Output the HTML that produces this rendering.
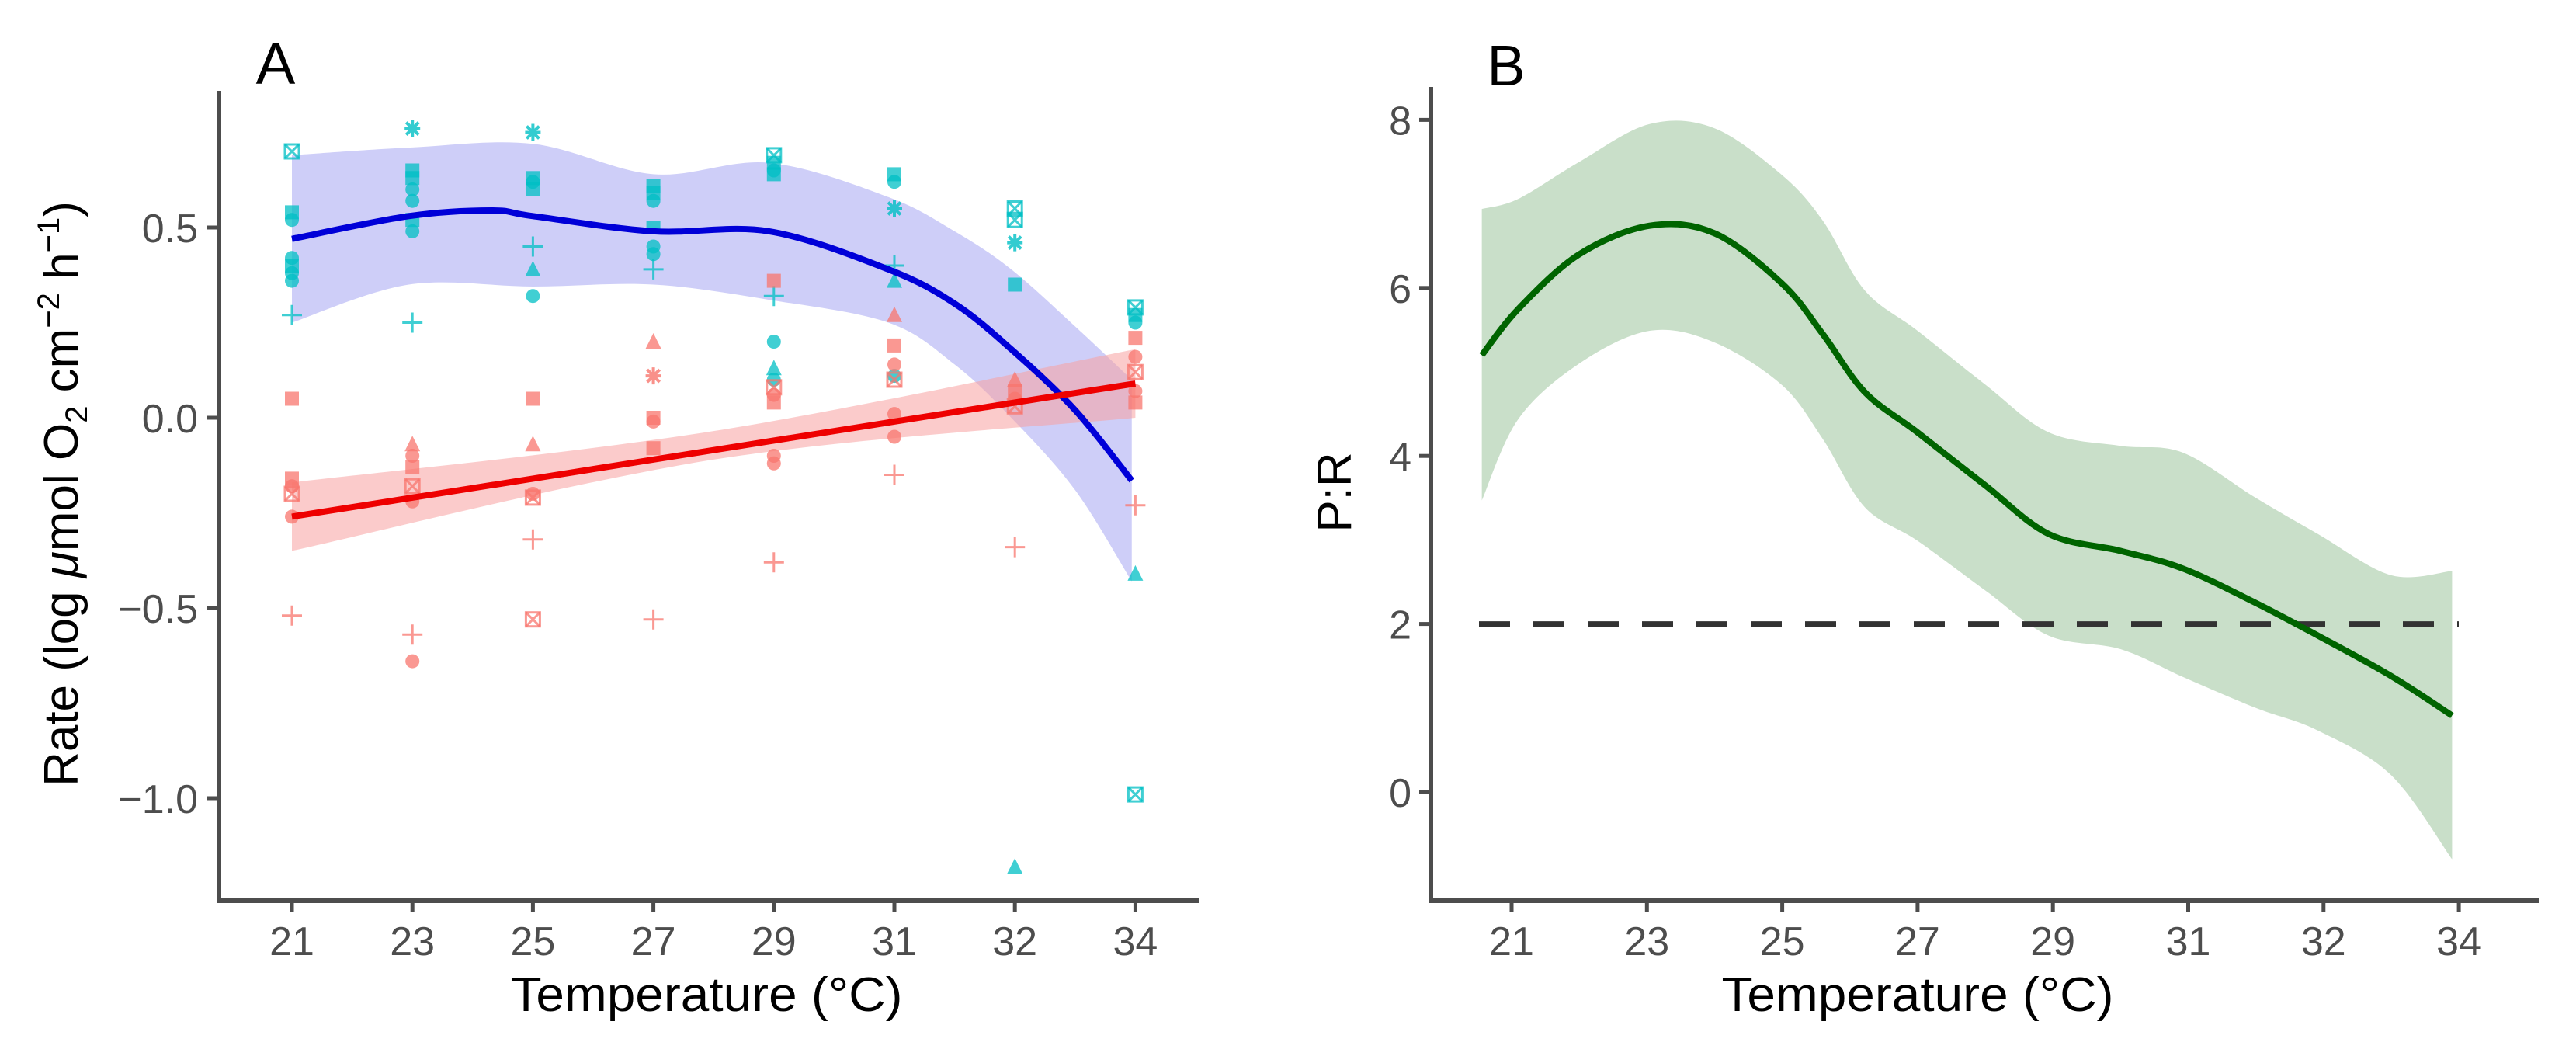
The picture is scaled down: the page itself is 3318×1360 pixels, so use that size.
<!DOCTYPE html>
<html><head><meta charset="utf-8"><style>
html,body{margin:0;padding:0;background:#fff;}
svg{display:block;font-family:"Liberation Sans",Arial,sans-serif;}
</style></head><body>
<svg id="fig" width="3318" height="1360" viewBox="0 0 3318 1360">
<g id="pa"></g>
<g id="pb"></g>
</svg>
<script>
// ---------- Panel A data ----------
const catsA = ["21","23","25","27","29","31","32","34"];
const yTicksA = [0.5, 0.0, -0.5, -1.0];
const yTickLabelsA = ["0.5","0.0","\u22120.5","\u22121.0"];
const cyanVals = [
  [0.70,0.54,0.52,0.42,0.40,0.38,0.36,0.27],
  [0.76,0.65,0.63,0.60,0.57,0.52,0.49,0.25],
  [0.75,0.63,0.62,0.60,0.45,0.39,0.32],
  [0.61,0.59,0.57,0.50,0.45,0.43,0.39],
  [0.69,0.67,0.65,0.64,0.32,0.20,0.13,0.10],
  [0.64,0.62,0.55,0.40,0.36,0.11],
  [0.55,0.52,0.46,0.35,-1.18],
  [0.29,0.27,0.25,-0.41,-0.99]
];
const cyanShapes = [
  ["sx","sq","ci","ci","sq","ci","ci","pl"],
  ["as","sq","sq","ci","ci","sq","ci","pl"],
  ["as","sq","ci","sq","pl","tr","ci"],
  ["sq","sq","ci","sq","ci","ci","pl"],
  ["sx","sq","ci","sq","pl","ci","tr","ci"],
  ["sq","ci","as","pl","tr","ci"],
  ["sx","sx","as","sq","tr"],
  ["sx","sq","ci","tr","sx"]
];
const redVals = [
  [0.05,-0.16,-0.18,-0.20,-0.26,-0.52],
  [-0.07,-0.10,-0.13,-0.18,-0.22,-0.57,-0.64],
  [0.05,-0.07,-0.20,-0.21,-0.32,-0.53],
  [0.20,0.11,0.00,-0.01,-0.08,-0.53],
  [0.36,0.08,0.06,0.04,-0.10,-0.12,-0.38],
  [0.27,0.19,0.14,0.10,0.01,-0.05,-0.15],
  [0.10,0.07,0.05,0.03,-0.34],
  [0.21,0.16,0.12,0.07,0.04,-0.23]
];
const redShapes = [
  ["sq","sq","ci","sx","ci","pl"],
  ["tr","ci","sq","sx","ci","pl","ci"],
  ["sq","tr","ci","sx","pl","sx"],
  ["tr","as","sq","ci","sq","pl"],
  ["sq","sx","ci","sq","ci","ci","pl"],
  ["tr","sq","ci","sx","ci","ci","pl"],
  ["tr","sq","ci","sx","pl"],
  ["sq","ci","sx","ci","sq","pl"]
];
const blueFitX = [0,0.97,1.66,2,3,3.96,4.95,5.5,5.97,6.5,6.97];
const blueFit = [0.47,0.53,0.545,0.53,0.49,0.49,0.39,0.30,0.18,0.02,-0.165];
const blueBandX = [0,0.97,2,3,3.96,4.95,5.5,5.97,6.5,6.97];
const blueUpper = [0.69,0.71,0.72,0.64,0.67,0.58,0.49,0.39,0.24,0.10];
const blueLower = [0.25,0.35,0.345,0.35,0.31,0.25,0.14,0.00,-0.19,-0.43];
const redFitX = [0,7];
const redFit = [-0.26,0.09];
const redBandX = [0,3.5,7];
const redUpper = [-0.17,-0.035,0.18];
const redLower = [-0.35,-0.11,0.00];

// ---------- Panel B data ----------
const catsB = ["21","23","25","27","29","31","32","34"];
const yTicksB = [0,2,4,6,8];
const prX = [-0.22,0.05,0.5,1.02,1.5,2.0,2.3,2.61,3.0,3.5,3.97,4.5,4.96,5.5,5.96,6.5,6.95];
const prFit = [5.2,5.75,6.4,6.74,6.65,6.05,5.45,4.76,4.28,3.65,3.07,2.87,2.66,2.25,1.86,1.38,0.91];
const prUpper = [6.94,7.06,7.5,7.95,7.9,7.34,6.8,5.97,5.49,4.85,4.28,4.12,4.04,3.5,3.07,2.58,2.63];
const prLower = [3.47,4.44,5.1,5.49,5.35,4.84,4.2,3.39,2.99,2.4,1.86,1.70,1.37,1.0,0.73,0.2,-0.80];
const refLine = [2];

const NS="http://www.w3.org/2000/svg";
function mk(tag,parent,attrs){const e=document.createElementNS(NS,tag);for(const k in attrs)e.setAttribute(k,attrs[k]);parent.appendChild(e);return e;}
function smoothPath(pts){
  let d="M"+pts[0][0]+","+pts[0][1];
  for(let i=0;i<pts.length-1;i++){
    const p0=pts[Math.max(0,i-1)],p1=pts[i],p2=pts[i+1],p3=pts[Math.min(pts.length-1,i+2)];
    const c1=[p1[0]+(p2[0]-p0[0])/6,p1[1]+(p2[1]-p0[1])/6];
    const c2=[p2[0]-(p3[0]-p1[0])/6,p2[1]-(p3[1]-p1[1])/6];
    d+=" C"+c1[0]+","+c1[1]+" "+c2[0]+","+c2[1]+" "+p2[0]+","+p2[1];
  }
  return d;
}
function bandPath(xs,up,lo,X,Y){
  const u=xs.map((x,i)=>[X(x),Y(up[i])]);
  const l=xs.map((x,i)=>[X(x),Y(lo[i])]).reverse();
  let d=smoothPath(u);
  d+=" L"+smoothPath(l).slice(1)+" Z";
  return d;
}
const AX="#4d4d4d";

// ---------- Panel A ----------
const pa=document.getElementById('pa');
const xA=i=>376+i*155.2;
const yA=v=>538-v*490;
const axLeftA=282, axBottom=1160;

function shape(g,s,cx,cy,col){
  const r=9;let e;
  if(s==="ci"){e=mk('circle',g,{cx:cx,cy:cy,r:r,fill:col,'fill-opacity':0.75});}
  else if(s==="sq"){e=mk('rect',g,{x:cx-r,y:cy-r,width:2*r,height:2*r,fill:col,'fill-opacity':0.75});}
  else if(s==="tr"){e=mk('polygon',g,{points:`${cx},${cy-r-2} ${cx+r+1},${cy+r} ${cx-r-1},${cy+r}`,fill:col,'fill-opacity':0.75});}
  else if(s==="pl"){e=mk('path',g,{d:`M${cx-13},${cy}H${cx+13}M${cx},${cy-13}V${cy+13}`,stroke:col,'stroke-width':3,'stroke-opacity':0.75,fill:'none'});}
  else if(s==="sx"){e=mk('g',g,{});mk('rect',e,{x:cx-r,y:cy-r,width:2*r,height:2*r,fill:'none',stroke:col,'stroke-width':3,'stroke-opacity':0.75});mk('path',e,{d:`M${cx-r},${cy-r}L${cx+r},${cy+r}M${cx+r},${cy-r}L${cx-r},${cy+r}`,stroke:col,'stroke-width':3,'stroke-opacity':0.75});}
  else {e=mk('path',g,{d:`M${cx-10},${cy}H${cx+10}M${cx},${cy-11}V${cy+11}M${cx-8},${cy-8}L${cx+8},${cy+8}M${cx+8},${cy-8}L${cx-8},${cy+8}`,stroke:col,'stroke-width':4,'stroke-opacity':0.8,fill:'none'});}
  return e;
}

const bB=mk('path',pa,{d:bandPath(blueBandX,blueUpper,blueLower,xA,yA),fill:'#b3b3f5','fill-opacity':0.65});


const bR=mk('path',pa,{d:bandPath(redBandX,redUpper,redLower,xA,yA),fill:'#f7a0a0','fill-opacity':0.55});



const ptsG=mk('g',pa,{});


cyanVals.forEach((arr,i)=>arr.forEach((v,j)=>{
  const e=shape(ptsG,cyanShapes[i][j],xA(i),yA(v),'#00BFC4');
  
  
}));
redVals.forEach((arr,i)=>arr.forEach((v,j)=>{
  const e=shape(ptsG,redShapes[i][j],xA(i),yA(v),'#F8766D');
  
  
}));

const lB=mk('path',pa,{d:smoothPath(blueFitX.map((x,i)=>[xA(x),yA(blueFit[i])])),fill:'none',stroke:'#0000d8','stroke-width':8});


const lR=mk('path',pa,{d:smoothPath(redFitX.map((x,i)=>[xA(x),yA(redFit[i])])),fill:'none',stroke:'#ee0000','stroke-width':8});



const axA=mk('path',pa,{d:`M${axLeftA},117V${axBottom}H1545`,fill:'none',stroke:AX,'stroke-width':6});


catsA.forEach((c,i)=>{
  const t=mk('line',pa,{x1:xA(i),x2:xA(i),y1:axBottom,y2:axBottom+15,stroke:AX,'stroke-width':5});
  
  
  const l=mk('text',pa,{x:xA(i),y:1230,'text-anchor':'middle','font-size':52,fill:AX});
  l.textContent=c;
  
  
});
yTicksA.forEach((v,i)=>{
  const t=mk('line',pa,{x1:axLeftA-15,x2:axLeftA,y1:yA(v),y2:yA(v),stroke:AX,'stroke-width':5});
  
  
  const l=mk('text',pa,{x:255,y:yA(v)+19,'text-anchor':'end','font-size':52,fill:AX});
  l.textContent=yTickLabelsA[i];
  
  
});
</script>
<script>
(function(){
const pa=document.getElementById('pa');
const t1=mk('text',pa,{x:355,y:108,'text-anchor':'middle','font-size':76,fill:'#000'});t1.textContent="A";


const xt=mk('text',pa,{x:910,y:1302,'text-anchor':'middle','font-size':62,fill:'#000',textLength:505,lengthAdjust:'spacingAndGlyphs'});xt.textContent="Temperature (°C)";


const yt=mk('text',pa,{x:0,y:0,'text-anchor':'middle','font-size':62,fill:'#000',transform:'translate(100,636) rotate(-90)'});
yt.innerHTML='Rate (log <tspan font-style="italic">μ</tspan>mol O<tspan font-size="40" dy="12">2</tspan><tspan dy="-12"> cm</tspan><tspan font-size="40" dy="-24">−2</tspan><tspan dy="24"> h</tspan><tspan font-size="40" dy="-24">−1</tspan><tspan dy="24">)</tspan>';



// ---------- Panel B ----------
const pb=document.getElementById('pb');
const xB=i=>1947+i*174.3;
const yB=v=>1020-v*108.2;
const axLeft=1843, axBottom=1160;
const band=mk('path',pb,{d:bandPath(prX,prUpper,prLower,xB,yB),fill:'#c9dfc9'});


refLine.forEach(v=>{
  const d=mk('line',pb,{x1:1905,x2:3167,y1:yB(v),y2:yB(v),stroke:'#333','stroke-width':7,'stroke-dasharray':'40,30'});
  
  
});
const ln=mk('path',pb,{d:smoothPath(prX.map((x,i)=>[xB(x),yB(prFit[i])])),fill:'none',stroke:'#006400','stroke-width':8});


const ax=mk('path',pb,{d:`M${axLeft},112V${axBottom}H3270`,fill:'none',stroke:AX,'stroke-width':6});


catsB.forEach((c,i)=>{
  const t=mk('line',pb,{x1:xB(i),x2:xB(i),y1:axBottom,y2:axBottom+15,stroke:AX,'stroke-width':5});
  
  
  const l=mk('text',pb,{x:xB(i),y:1230,'text-anchor':'middle','font-size':52,fill:AX});
  l.textContent=c;
  
  
});
yTicksB.forEach(v=>{
  const t=mk('line',pb,{x1:axLeft-15,x2:axLeft,y1:yB(v),y2:yB(v),stroke:AX,'stroke-width':5});
  
  
  const l=mk('text',pb,{x:1818,y:yB(v)+19,'text-anchor':'end','font-size':52,fill:AX});
  l.textContent=String(v);
  
  
});
const t2=mk('text',pb,{x:1940,y:110,'text-anchor':'middle','font-size':74,fill:'#000'});t2.textContent="B";


const xt2=mk('text',pb,{x:2470,y:1302,'text-anchor':'middle','font-size':62,fill:'#000',textLength:505,lengthAdjust:'spacingAndGlyphs'});xt2.textContent="Temperature (°C)";


const yt2=mk('text',pb,{x:0,y:0,'text-anchor':'middle','font-size':62,fill:'#000',transform:'translate(1740,634) rotate(-90)'});yt2.textContent="P:R";


})();
</script>
</body></html>
